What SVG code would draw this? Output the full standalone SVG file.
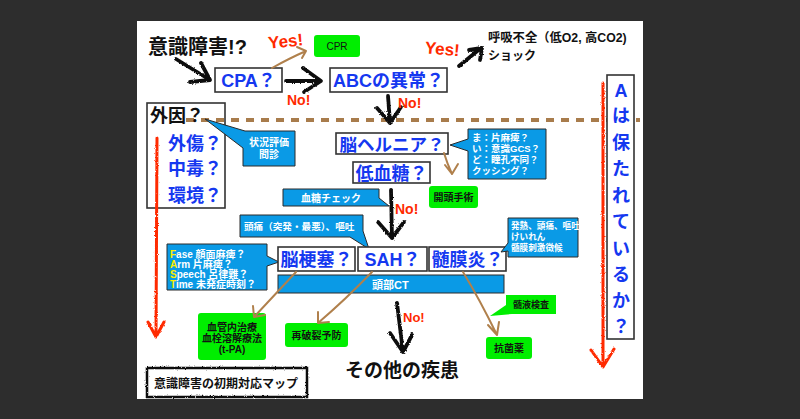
<svg xmlns="http://www.w3.org/2000/svg" width="800" height="419" viewBox="0 0 800 419">
<defs>
<filter id="rough" filterUnits="userSpaceOnUse" x="0" y="0" width="800" height="419">
<feTurbulence type="fractalNoise" baseFrequency="0.9" numOctaves="2" seed="3" result="n"/>
<feDisplacementMap in="SourceGraphic" in2="n" scale="2.5" xChannelSelector="R" yChannelSelector="G"/>
</filter>
<style>
text{font-family:"Liberation Sans","Noto Sans CJK JP",sans-serif;font-weight:700}
.box{fill:#fff;stroke:#333;stroke-width:1.6}
.call{fill:#0a9ae6;stroke:#2a2a2a;stroke-width:1}
.green{fill:#00ee00}
.bt{fill:#1538f0;font-size:18px}
.kt{fill:#111}
.wt{fill:#fff;font-size:10px}
.gt{fill:#111;font-size:10px;text-anchor:middle}
.red{fill:#ff2a00;font-size:17px;font-family:"Liberation Sans",sans-serif}
.hand{fill:none;stroke:#111;stroke-width:3.8;stroke-linecap:round;stroke-linejoin:round;filter:url(#rough)}
.brown{fill:none;stroke:#b0804c;stroke-width:2;stroke-linecap:round;stroke-linejoin:round}
.redl{fill:none;stroke:#ff2a00;stroke-width:3;stroke-linecap:round;stroke-linejoin:round;filter:url(#rough)}
.yel{fill:#ffee00}
</style>
</defs>
<rect x="0" y="0" width="800" height="419" fill="#2d2d2d"/>
<rect x="137" y="21" width="506" height="378" fill="#fff"/>

<g id="divider">
<line x1="186" y1="120" x2="640" y2="120" stroke="#a87c4c" stroke-width="4" stroke-dasharray="8,7"/>
</g>

<g id="title"><text x="148" y="54" font-size="20" class="kt">意識障害!?</text></g>

<g id="cpr"><rect x="314" y="35" width="46" height="22" rx="3" class="green"/><text x="337" y="50" class="gt" style="font-weight:400">CPR</text></g>

<g id="cpa"><rect x="215" y="68" width="67" height="24" class="box"/><text x="248.5" y="87" class="bt" text-anchor="middle">CPA？</text></g>

<g id="abc"><rect x="330" y="68" width="117" height="24" class="box"/><text x="388.5" y="87" class="bt" text-anchor="middle">ABCの異常？</text></g>

<g id="resp"><text x="488" y="42" font-size="12.3" class="kt">呼吸不全（低O2, 高CO2)</text><text x="488" y="60" font-size="12" class="kt">ショック</text></g>

<g id="external"><rect x="147" y="103" width="78" height="105" class="box" fill-opacity="0"/>
<text x="150" y="122" font-size="18" class="kt">外因？</text>
<text x="168" y="150" class="bt">外傷？</text>
<text x="168" y="175" class="bt">中毒？</text>
<text x="168" y="202" class="bt">環境？</text></g>

<g id="callout-assess"><path d="M205,119 L245,131 H295 V166 H243 V148 Z" class="call"/>
<text x="269" y="146" class="wt" text-anchor="middle">状況評価</text><text x="269" y="158" class="wt" text-anchor="middle">問診</text></g>

<g id="herniation"><rect x="336" y="133" width="112" height="21" class="box"/><text x="392" y="150.5" class="bt" style="font-size:17.5px" text-anchor="middle">脳ヘルニア？</text></g>

<g id="callout-maido"><path d="M450,145 L468,139 V129 H546 V179 H468 V151 Z" class="call"/>
<text x="472" y="141" class="wt" style="font-size:9.5px">ま：片麻痺？</text>
<text x="472" y="152" class="wt" style="font-size:9.5px">い：意識GCS？</text>
<text x="472" y="163" class="wt" style="font-size:9.5px">ど：瞳孔不同？</text>
<text x="472" y="174" class="wt" style="font-size:9.5px">クッシング？</text></g>

<g id="hypoglycemia"><rect x="353" y="162" width="77" height="21" class="box"/><text x="391.5" y="179.5" class="bt" text-anchor="middle">低血糖？</text></g>

<g id="craniotomy"><rect x="429" y="186" width="49" height="22" rx="3" class="green"/><text x="453.5" y="201" class="gt">開頭手術</text></g>

<g id="callout-glucose"><path d="M283,189 H379 V198 L389,206 H283 Z" class="call"/><text x="331" y="202" class="wt" text-anchor="middle">血糖チェック</text></g>

<g id="callout-headache"><path d="M240,215 H363 V231 L369,249 L350,237 H240 Z" class="call"/><text x="244" y="230" class="wt" style="font-size:9.6px">頭痛（突発・最悪）、嘔吐</text></g>

<g id="callout-fast"><path d="M167,244 H267 V256 L279,262 L267,266 V290 H167 Z" class="call"/>
<text x="170" y="258" class="wt"><tspan class="yel">F</tspan>ase 顔面麻痺？</text>
<text x="170" y="268" class="wt"><tspan class="yel">A</tspan>rm 片麻痺？</text>
<text x="170" y="278" class="wt"><tspan class="yel">S</tspan>peech 呂律難？</text>
<text x="170" y="288" class="wt"><tspan class="yel">T</tspan>ime 未発症時刻？</text></g>

<g id="infarction"><rect x="278" y="247" width="77" height="24" class="box"/><text x="316.5" y="266" class="bt" text-anchor="middle">脳梗塞？</text></g>
<g id="sah"><rect x="358" y="247" width="69" height="24" class="box"/><text x="392.5" y="266" class="bt" text-anchor="middle">SAH？</text></g>
<g id="meningitis"><rect x="429" y="247" width="77" height="24" class="box"/><text x="467.5" y="266" class="bt" text-anchor="middle">髄膜炎？</text></g>

<g id="callout-fever"><path d="M508,218 H578 V257 H508 V251 L501,252 L508,243 Z" class="call"/>
<text x="511" y="229" class="wt" style="font-size:8.6px">発熱、頭痛、嘔吐</text>
<text x="511" y="240" class="wt" style="font-size:8.6px">けいれん</text>
<text x="511" y="251" class="wt" style="font-size:8.6px">髄膜刺激徴候</text></g>

<g id="head-ct"><rect x="278" y="275" width="226" height="18" class="call"/><text x="372" y="288.5" class="wt" style="font-size:11px">頭部CT</text></g>

<g id="csf"><path d="M506,295 H556 V314 H512 L490,316 L506,305 Z" class="green"/><text x="531" y="308" class="gt" style="font-size:9px">髄液検査</text></g>

<g id="endovascular"><rect x="198" y="313" width="68" height="47" rx="3" class="green"/>
<text x="232" y="331" class="gt">血管内治療</text><text x="232" y="342" class="gt">血栓溶解療法</text><text x="232" y="353" class="gt">(t-PA)</text></g>
<g id="rerupture"><rect x="285" y="323" width="63" height="24" rx="3" class="green"/><text x="316.5" y="339" class="gt">再破裂予防</text></g>
<g id="antibiotics"><rect x="486" y="337" width="46" height="22" rx="3" class="green"/><text x="509" y="352" class="gt">抗菌薬</text></g>

<g id="other"><text x="345" y="377" font-size="19" class="kt">その他の疾患</text></g>

<g id="airway"><rect x="607" y="75" width="27" height="264" class="box"/>
<g class="bt" text-anchor="middle">
<text x="621" y="96.5">A</text><text x="621" y="122">は</text><text x="621" y="148.5">保</text><text x="621" y="175">た</text><text x="621" y="201.5">れ</text><text x="621" y="228">て</text><text x="621" y="254.5">い</text><text x="621" y="281">る</text><text x="621" y="307">か</text><text x="621" y="333">？</text></g></g>

<g id="map-label"><rect x="147" y="368" width="160" height="29" fill="none" stroke="#111" stroke-width="2.5" filter="url(#rough)"/><text x="154" y="388" font-size="12" class="kt">意識障害の初期対応マップ</text></g>

<g id="connectors">
<path class="hand" d="M176,59 L210,80 M201,63 L210,80 L190,82"/>
<path class="hand" d="M286,81 L320,81 M303,68 L321,81 L304,92"/>
<path class="hand" d="M388,96 L390,123 M377,108 L390,123 L401,107"/>
<path class="hand" d="M459,66 L481,48 M469,50 L482,48 L480,60"/>
<path class="hand" d="M391,190 L392,238 M378,222 L392,238 L404,222"/>
<path class="hand" d="M397,303 L403,352 M390,333 L403,352 L412,335"/>
<path class="brown" d="M272,68 Q290,58 306,51 M297,47 L306,51 L302,58"/>
<path class="brown" d="M444,153 Q447,163 452,174 M445,165 L452,174 L458,164"/>
<path class="brown" d="M296,272 L254,317 M253,306 L254,317 L265,315"/>
<path class="brown" d="M372,272 Q345,300 318,323 M318,312 L318,323 L329,322"/>
<path class="brown" d="M463,272 Q480,300 497,335 M488,325 L497,335 L499,322"/>
<path class="redl" d="M157,138 L156,336 M148,322 L156,337 L164,322"/>
<path class="redl" d="M603,83 L603,364 M591,350 L603,367 L614,349"/>
<text x="268" y="47" class="red" transform="rotate(-6 286 40)">Yes!</text>
<text x="425" y="55" class="red" transform="rotate(5 445 47)">Yes!</text>
<text x="287" y="105" class="red" style="font-size:14px">No!</text>
<text x="398" y="108" class="red" style="font-size:14px">No!</text>
<text x="395" y="214" class="red" style="font-size:14px">No!</text>
<text x="403" y="322" class="red" style="font-size:13px">No!</text>
</g>
</svg>
